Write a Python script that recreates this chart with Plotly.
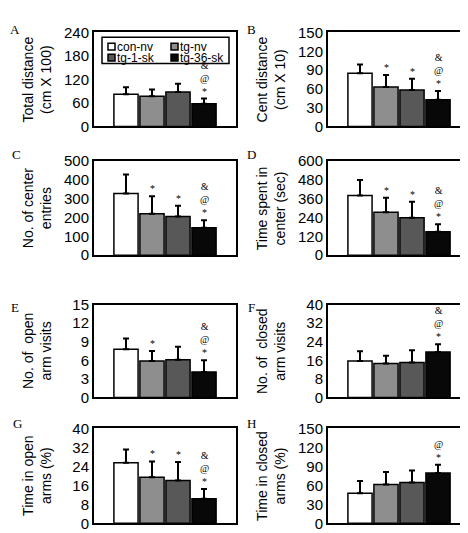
import plotly.graph_objects as go

# ---------------- data ----------------
groups = ["con-nv", "tg-nv", "tg-1-sk", "tg-36-sk"]
group_colors = ["#ffffff", "#8e8e8e", "#585858", "#080808"]

panel_letters = ["A", "B", "C", "D", "E", "F", "G", "H"]
y_titles = [
    "Total distance<br>(cm X 100)",
    "Cent distance<br>(cm X 10)",
    "No. of center<br>entries",
    "Time spent in<br>center (sec)",
    "No. of  open<br>arm visits",
    "No. of  closed<br>arm visits",
    "Time in open<br>arms (%)",
    "Time in closed<br>arms (%)",
]
y_max = [240, 150, 500, 600, 15, 40, 40, 150]
y_dtick = [60, 30, 100, 120, 3, 8, 8, 30]

total_distance = [82, 77, 88, 58]
total_distance_err = [18, 17.5, 21, 13]
cent_distance = [85, 63, 58, 42.5]
cent_distance_err = [14, 19, 18, 14]
center_entries = [328, 220, 206, 146]
center_entries_err = [102, 94, 57, 40]
center_time = [381, 274, 239, 150]
center_time_err = [99, 93, 103, 48]
open_arm_visits = [7.8, 5.9, 6.1, 4.1]
open_arm_visits_err = [1.7, 1.6, 2.1, 1.9]
closed_arm_visits = [15.7, 14.6, 15.0, 19.6]
closed_arm_visits_err = [4.2, 3.4, 5.3, 3.3]
open_arm_time = [25.5, 19.4, 18.0, 10.4]
open_arm_time_err = [5.6, 6.7, 7.8, 4.1]
closed_arm_time = [47.6, 61.4, 64.5, 79.4]
closed_arm_time_err = [19.4, 19.6, 19.0, 13.3]

means = [total_distance, cent_distance, center_entries, center_time,
         open_arm_visits, closed_arm_visits, open_arm_time, closed_arm_time]
errs = [total_distance_err, cent_distance_err, center_entries_err, center_time_err,
        open_arm_visits_err, closed_arm_visits_err, open_arm_time_err, closed_arm_time_err]

# significance marks, listed bottom to top
significance = [
    ["", "", "", "*@&"],
    ["", "*", "*", "*@&"],
    ["", "*", "*", "*@&"],
    ["", "*", "*", "*@&"],
    ["", "*", "", "*@&"],
    ["", "", "", "*@&"],
    ["", "*", "*", "*@&"],
    ["", "", "", "*@"],
]

# ---------------- layout geometry (pixels) ----------------
W, H = 468, 533
col_px = [(86, 228), (320, 462)]
row_px = [(16, 113), (149, 246), (297, 393), (425, 523)]
letter_px = [(7, 13), (243, 13), (8, 142), (243, 142), (7, 300), (243, 300), (9, 420), (243, 420)]


def px_x(v):
    return v / W


def px_y(v):
    return 1 - v / H


SANS = "Liberation Sans, Arial, sans-serif"
SERIF = "Liberation Serif, Times New Roman, serif"

fig = go.Figure()
annotations = []
shapes = []
layout_axes = {}

for i in range(8):
    r, c = divmod(i, 2)
    xl, xr = col_px[c]
    yt, yb = row_px[r]
    sfx = "" if i == 0 else str(i + 1)
    fig.add_trace(go.Bar(
        x=groups, y=means[i],
        marker=dict(color=group_colors, line=dict(color="black", width=1.5)),
        width=0.93,
        error_y=dict(type="data", array=errs[i], arrayminus=[0] * 4, symmetric=False,
                     color="black", thickness=2, width=3),
        xaxis="x" + sfx, yaxis="y" + sfx, showlegend=False,
    ))
    layout_axes["xaxis" + sfx] = dict(
        domain=[px_x(xl), px_x(xr)], anchor="y" + sfx, type="category",
        range=[-1.23, 4.23], showticklabels=False, ticks="", showgrid=False,
        zeroline=False, showline=True, mirror=True, linecolor="black", linewidth=2,
    )
    layout_axes["yaxis" + sfx] = dict(
        domain=[px_y(yb), px_y(yt)], anchor="x" + sfx, range=[0, y_max[i]],
        tick0=0, dtick=y_dtick[i], showgrid=False, zeroline=False, showline=True,
        mirror=True, linecolor="black", linewidth=2, ticks="",
        tickfont=dict(family=SANS, size=15, color="#000000"),
    )
    # y title
    annotations.append(dict(
        text=y_titles[i], xref="paper", yref="paper",
        x=px_x(xl - 57), y=px_y((yt + yb) / 2), textangle=-90,
        showarrow=False, xanchor="center", yanchor="middle",
        font=dict(family=SANS, size=14, color="#000000"),
    ))
    # panel letter
    lx, ly = letter_px[i]
    annotations.append(dict(
        text=panel_letters[i], xref="paper", yref="paper", x=px_x(lx), y=px_y(ly),
        showarrow=False, xanchor="center", yanchor="middle",
        font=dict(family=SERIF, size=13, color="#000000"),
    ))
    # significance marks (stacked, one text per bar)
    for j, marks in enumerate(significance[i]):
        if not marks:
            continue
        annotations.append(dict(
            text="<br>".join(reversed(list(marks))), xref="x" + sfx, yref="y" + sfx,
            x=groups[j], y=means[i][j] + errs[i][j],
            showarrow=False, xanchor="center", yanchor="bottom",
            yshift=1, borderpad=0,
            font=dict(family=SERIF, size=10, color="#000000"),
        ))

# ---------------- manual legend in panel A ----------------
leg_box = (94, 21, 221, 48)
shapes.append(dict(type="rect", xref="paper", yref="paper",
                   x0=px_x(leg_box[0]), x1=px_x(leg_box[2]),
                   y0=px_y(leg_box[3]), y1=px_y(leg_box[1]),
                   line=dict(color="black", width=1.5), fillcolor="white", layer="above"))
leg_cols = [100, 163]
leg_rows = [30.5, 42]
for j, name in enumerate(groups):
    cx = leg_cols[j % 2]
    cy = leg_rows[j // 2]
    shapes.append(dict(type="rect", xref="paper", yref="paper",
                       x0=px_x(cx), x1=px_x(cx + 7), y0=px_y(cy + 3.5), y1=px_y(cy - 3.5),
                       line=dict(color="black", width=1.5), fillcolor=group_colors[j],
                       layer="above"))
    annotations.append(dict(
        text=name, xref="paper", yref="paper", x=px_x(cx + 8), y=px_y(cy),
        showarrow=False, xanchor="left", yanchor="middle", borderpad=0,
        font=dict(family=SANS, size=12, color="#000000"),
    ))

fig.update_layout(
    width=W, height=H, margin=dict(l=0, r=0, t=0, b=0),
    paper_bgcolor="white", plot_bgcolor="white",
    barmode="overlay", showlegend=False,
    annotations=annotations, shapes=shapes,
    **layout_axes,
)

fig.write_html("out.html")
